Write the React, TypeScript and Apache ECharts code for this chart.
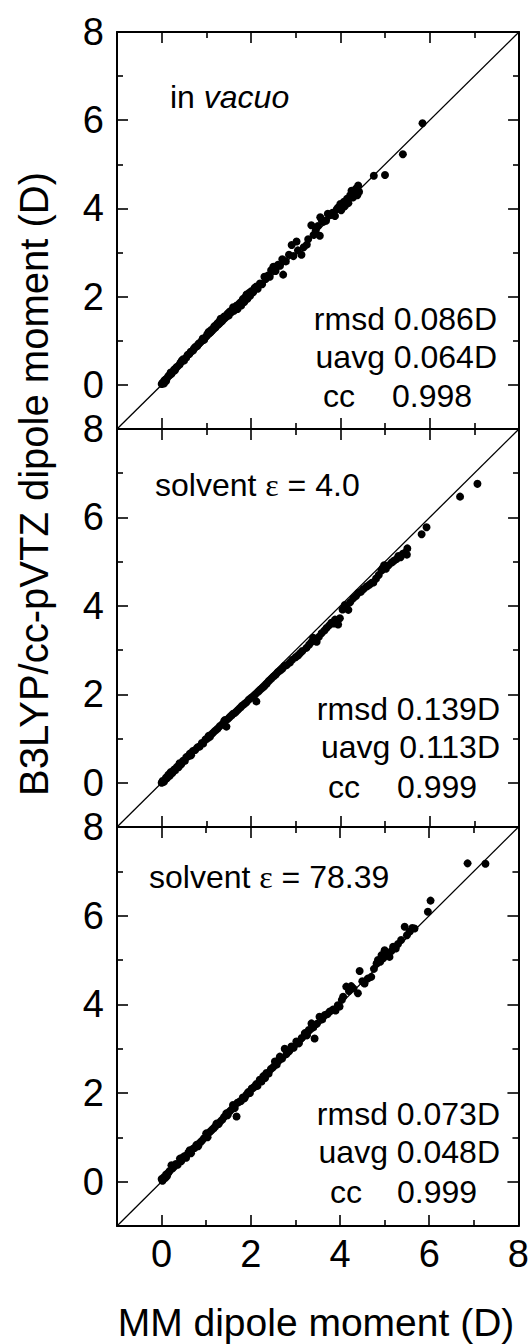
import React, { useEffect, useRef } from "react";
import * as echarts from "echarts";

const axisMin = -1;
const axisMax = 8;
const majorTicks = [0, 2, 4, 6];
const minorTicks = [1, 3, 5, 7];
const tickLabels = [0, 2, 4, 6, 8];
const diagonal = [[-1, -1], [8, 8]];

const vacuoPoints = [
  [0.0, 0.02], [0.02, 0.05], [0.05, 0.03], [0.06, 0.1], [0.08, 0.12], [0.1, 0.09], [0.12, 0.15], [0.15, 0.2],
  [0.18, 0.22], [0.2, 0.28], [0.22, 0.25], [0.25, 0.3], [0.28, 0.35], [0.3, 0.33], [0.33, 0.4], [0.36, 0.42],
  [0.4, 0.46], [0.42, 0.5], [0.45, 0.55], [0.48, 0.58], [0.5, 0.55], [0.55, 0.62], [0.58, 0.68], [0.62, 0.7],
  [0.65, 0.75], [0.7, 0.78], [0.72, 0.82], [0.75, 0.86], [0.8, 0.88], [0.82, 0.93], [0.85, 0.95], [0.9, 1.0],
  [0.92, 1.05], [0.95, 1.02], [1.0, 1.1], [1.02, 1.15], [1.05, 1.2], [1.08, 1.18], [1.1, 1.24], [1.12, 1.22],
  [1.15, 1.28], [1.18, 1.33], [1.2, 1.3], [1.22, 1.36], [1.25, 1.4], [1.28, 1.38], [1.3, 1.45], [1.32, 1.5],
  [1.35, 1.44], [1.38, 1.5], [1.4, 1.55], [1.42, 1.52], [1.45, 1.58], [1.48, 1.62], [1.5, 1.57], [1.52, 1.66],
  [1.55, 1.64], [1.58, 1.7], [1.6, 1.76], [1.62, 1.68], [1.65, 1.74], [1.68, 1.8], [1.7, 1.72], [1.72, 1.82],
  [1.75, 1.86], [1.78, 1.8], [1.8, 1.9], [1.82, 1.95], [1.85, 1.88], [1.88, 2.0], [1.9, 2.05], [1.92, 1.95],
  [1.95, 2.08], [1.98, 2.02], [2.0, 2.12], [2.05, 2.1], [2.08, 2.2], [2.12, 2.23], [2.15, 2.18], [2.2, 2.3],
  [2.25, 2.28], [2.3, 2.45], [2.33, 2.4], [2.38, 2.48], [2.42, 2.45], [2.45, 2.6], [2.5, 2.68], [2.55, 2.58],
  [2.6, 2.72], [2.65, 2.7], [2.7, 2.85], [2.72, 2.5], [2.78, 2.8], [2.85, 2.95], [2.91, 3.17], [2.95, 2.92],
  [3.02, 3.25], [3.05, 3.05], [3.13, 2.95], [3.18, 3.12], [3.25, 3.18], [3.28, 3.3], [3.35, 3.62], [3.4, 3.4],
  [3.45, 3.5], [3.5, 3.6], [3.54, 3.38], [3.55, 3.8], [3.58, 3.75], [3.62, 3.7], [3.68, 3.72], [3.72, 3.88],
  [3.78, 3.85], [3.82, 3.9], [3.88, 3.83], [3.92, 3.98], [3.95, 4.02], [4.0, 4.1], [4.02, 3.96], [4.08, 4.15],
  [4.1, 4.05], [4.15, 4.22], [4.18, 4.12], [4.22, 4.3], [4.25, 4.4], [4.28, 4.25], [4.32, 4.35], [4.35, 4.45],
  [4.38, 4.3], [4.4, 4.52], [4.42, 4.38], [4.75, 4.74], [5.0, 4.76], [5.4, 5.23], [5.84, 5.93],
];

const eps4Points = [
  [0.0, 0.0], [0.02, 0.04], [0.05, 0.02], [0.08, 0.08], [0.1, 0.12], [0.12, 0.1], [0.15, 0.18], [0.18, 0.16],
  [0.2, 0.24], [0.24, 0.22], [0.28, 0.3], [0.3, 0.28], [0.34, 0.36], [0.38, 0.35], [0.4, 0.44], [0.44, 0.42],
  [0.48, 0.5], [0.52, 0.5], [0.55, 0.58], [0.6, 0.6], [0.63, 0.66], [0.66, 0.62], [0.7, 0.72], [0.75, 0.74],
  [0.8, 0.8], [0.85, 0.82], [0.9, 0.9], [0.93, 0.89], [0.98, 0.98], [1.02, 1.0], [1.05, 1.06], [1.08, 1.04],
  [1.12, 1.1], [1.16, 1.14], [1.2, 1.18], [1.25, 1.22], [1.3, 1.28], [1.35, 1.32], [1.4, 1.4], [1.42, 1.42],
  [1.45, 1.27], [1.48, 1.44], [1.52, 1.48], [1.56, 1.52], [1.6, 1.56], [1.64, 1.58], [1.68, 1.62], [1.72, 1.66],
  [1.76, 1.7], [1.8, 1.74], [1.85, 1.78], [1.9, 1.82], [1.95, 1.88], [2.0, 1.92], [2.05, 1.96], [2.1, 2.0],
  [2.12, 1.84], [2.16, 2.06], [2.2, 2.1], [2.25, 2.14], [2.3, 2.18], [2.35, 2.24], [2.4, 2.3], [2.45, 2.35],
  [2.5, 2.4], [2.55, 2.44], [2.6, 2.5], [2.65, 2.54], [2.7, 2.58], [2.75, 2.64], [2.8, 2.66], [2.87, 2.72],
  [2.92, 2.78], [3.0, 2.84], [3.05, 2.88], [3.1, 2.93], [3.15, 2.98], [3.24, 3.05], [3.3, 3.12], [3.35, 3.18],
  [3.39, 3.28], [3.44, 3.22], [3.47, 3.19], [3.52, 3.3], [3.58, 3.38], [3.64, 3.44], [3.69, 3.5], [3.75, 3.56],
  [3.8, 3.62], [3.85, 3.6], [3.88, 3.69], [3.92, 3.63], [3.95, 3.58], [3.99, 3.72], [4.05, 3.92], [4.1, 4.02],
  [4.14, 3.96], [4.18, 3.91], [4.22, 4.08], [4.29, 4.17], [4.35, 4.22], [4.4, 4.29], [4.46, 4.32], [4.52, 4.38],
  [4.59, 4.44], [4.65, 4.48], [4.7, 4.52], [4.74, 4.53], [4.8, 4.62], [4.86, 4.7], [4.92, 4.8], [4.95, 4.86],
  [4.98, 4.92], [5.02, 4.84], [5.08, 4.92], [5.15, 4.98], [5.2, 5.02], [5.26, 5.06], [5.3, 5.13], [5.35, 5.1],
  [5.4, 5.18], [5.45, 5.2], [5.49, 5.16], [5.5, 5.3], [5.82, 5.62], [5.93, 5.78], [6.68, 6.47], [7.07, 6.76],
];

const eps78Points = [
  [0.0, 0.06], [0.02, 0.02], [0.05, 0.1], [0.08, 0.08], [0.1, 0.16], [0.12, 0.12], [0.15, 0.2], [0.18, 0.24],
  [0.22, 0.37], [0.25, 0.3], [0.28, 0.34], [0.32, 0.4], [0.36, 0.38], [0.41, 0.52], [0.44, 0.46], [0.48, 0.55],
  [0.52, 0.58], [0.55, 0.54], [0.6, 0.66], [0.63, 0.71], [0.66, 0.64], [0.7, 0.74], [0.74, 0.76], [0.78, 0.83],
  [0.82, 0.8], [0.86, 0.88], [0.9, 0.92], [0.95, 0.98], [1.0, 1.09], [1.03, 1.0], [1.08, 1.12], [1.12, 1.16],
  [1.16, 1.2], [1.2, 1.24], [1.23, 1.31], [1.28, 1.3], [1.32, 1.36], [1.36, 1.4], [1.4, 1.46], [1.45, 1.54],
  [1.48, 1.5], [1.52, 1.58], [1.56, 1.62], [1.6, 1.73], [1.64, 1.66], [1.68, 1.47], [1.7, 1.78], [1.74, 1.8],
  [1.78, 1.82], [1.82, 1.9], [1.86, 1.88], [1.9, 1.96], [1.94, 2.02], [1.98, 2.0], [2.02, 2.1], [2.05, 2.11],
  [2.08, 2.14], [2.12, 2.2], [2.15, 2.16], [2.2, 2.3], [2.24, 2.26], [2.28, 2.38], [2.32, 2.34], [2.35, 2.45],
  [2.4, 2.44], [2.45, 2.54], [2.5, 2.58], [2.54, 2.71], [2.58, 2.64], [2.62, 2.74], [2.65, 2.82], [2.7, 2.78],
  [2.76, 3.0], [2.8, 2.88], [2.86, 2.94], [2.91, 3.05], [2.96, 3.02], [3.02, 3.16], [3.08, 3.12], [3.14, 3.24],
  [3.21, 3.35], [3.26, 3.3], [3.3, 3.42], [3.36, 3.57], [3.4, 3.48], [3.43, 3.23], [3.48, 3.56], [3.54, 3.72],
  [3.6, 3.66], [3.66, 3.76], [3.72, 3.78], [3.77, 3.84], [3.84, 3.88], [3.9, 3.86], [3.95, 3.98], [3.99, 3.95],
  [4.04, 4.1], [4.07, 4.17], [4.14, 4.4], [4.2, 4.3], [4.25, 4.41], [4.3, 4.36], [4.4, 4.25], [4.44, 4.75],
  [4.5, 4.52], [4.55, 4.47], [4.62, 4.58], [4.7, 4.62], [4.76, 4.8], [4.82, 4.92], [4.85, 5.0], [4.9, 4.96],
  [4.93, 5.11], [4.97, 5.04], [5.0, 5.22], [5.05, 5.14], [5.11, 5.07], [5.15, 5.2], [5.19, 5.3], [5.25, 5.26],
  [5.3, 5.36], [5.37, 5.45], [5.45, 5.75], [5.5, 5.56], [5.56, 5.64], [5.62, 5.72], [5.67, 5.71], [5.97, 6.09],
  [6.03, 6.34], [6.86, 7.18], [7.26, 7.17],
];

const panelData = [vacuoPoints, eps4Points, eps78Points];
const rmsdTexts = ["rmsd 0.086D", "rmsd 0.139D", "rmsd 0.073D"];
const uavgTexts = ["uavg 0.064D", "uavg 0.113D", "uavg 0.048D"];
const ccValues = ["0.998", "0.999", "0.999"];
const epsValues = ["4.0", "78.39"];
const xTitle = "MM dipole moment (D)";
const yTitle = "B3LYP/cc-pVTZ dipole moment (D)";

const FONT = "'Liberation Sans', Arial, Helvetica, sans-serif";
const SERIF = "'Liberation Serif', 'Times New Roman', serif";
const BLACK = "#000";

// layout
const GRID_LEFT = 117;
const GRID_WIDTH = 402;
const gridTops = [32, 429, 827];
const gridHeights = [397, 398, 399];

function txt(x: number, y: number, text: string, align: string, size = 32, rich?: any) {
  return {
    type: "text",
    x,
    y,
    silent: true,
    style: {
      text,
      fill: BLACK,
      fontSize: size,
      fontFamily: FONT,
      align,
      textAlign: align,
      verticalAlign: "middle",
      textVerticalAlign: "middle",
      rich,
    },
  };
}

export default function App() {
  const ref = useRef<HTMLDivElement>(null);

  useEffect(() => {
    if (!ref.current) return;
    const chart = echarts.init(ref.current, null, { renderer: "svg" });

    const borderStyle = { color: BLACK, width: 2 };
    const tickStyle = { color: BLACK, width: 1.6 };
    const grids: any[] = [];
    const xAxes: any[] = [];
    const yAxes: any[] = [];
    const series: any[] = [];

    panelData.forEach((points, g) => {
      grids.push({ left: GRID_LEFT, top: gridTops[g], width: GRID_WIDTH, height: gridHeights[g], containLabel: false });
      const base = {
        type: "value",
        gridIndex: g,
        min: axisMin,
        max: axisMax,
        splitLine: { show: false },
        axisLabel: { show: false },
      };
      const major = (position: string, labels: boolean, isX: boolean) => ({
        ...base,
        position,
        axisLine: { show: true, onZero: false, lineStyle: borderStyle },
        axisTick: { show: true, inside: true, length: 11, customValues: majorTicks, lineStyle: tickStyle },
        axisLabel: labels
          ? {
              show: true,
              customValues: tickLabels,
              fontSize: 38,
              fontFamily: FONT,
              color: BLACK,
              margin: isX ? 9 : 13,
            }
          : { show: false },
      });
      const minor = (position: string) => ({
        ...base,
        position,
        axisLine: { show: false, onZero: false },
        axisTick: { show: true, inside: true, length: 6, customValues: minorTicks, lineStyle: tickStyle },
      });
      const xi = xAxes.length;
      xAxes.push(major("bottom", g === 2, true), minor("bottom"), major("top", false, true), minor("top"));
      const yi = yAxes.length;
      yAxes.push(major("left", true, false), minor("left"), major("right", false, false), minor("right"));

      series.push({
        type: "line",
        xAxisIndex: xi,
        yAxisIndex: yi,
        data: diagonal,
        symbol: "none",
        lineStyle: { color: BLACK, width: 1.3 },
        silent: true,
      });
      series.push({
        type: "scatter",
        xAxisIndex: xi,
        yAxisIndex: yi,
        data: points,
        symbol: "circle",
        symbolSize: 8,
        itemStyle: { color: BLACK, opacity: 1 },
        silent: true,
      });
    });

    const graphics: any[] = [];
    graphics.push(
      txt(170, 97, "{r|in }{i|vacuo}", "left", 32, {
        r: { fontSize: 32, fontFamily: FONT, fill: BLACK, color: BLACK },
        i: { fontSize: 32, fontFamily: FONT, fontStyle: "italic", fill: BLACK, color: BLACK },
      })
    );
    const epsRich = {
      a: { fontSize: 32, fontFamily: FONT, fill: BLACK, color: BLACK },
      e: { fontSize: 32, fontFamily: SERIF, fill: BLACK, color: BLACK },
    };
    graphics.push(txt(155, 485, `{a|solvent }{e|ε}{a| = ${epsValues[0]}}`, "left", 32, epsRich));
    graphics.push(txt(149, 877, `{a|solvent }{e|ε}{a| = ${epsValues[1]}}`, "left", 32, epsRich));

    const statRows = [
      { right: 497, rms: 319, uav: 357, cc: 396, ccX: 323, numX: 392 },
      { right: 500, rms: 709, uav: 747, cc: 787, ccX: 328, numX: 397 },
      { right: 500, rms: 1114, uav: 1152, cc: 1192, ccX: 330, numX: 397 },
    ];
    statRows.forEach((r, i) => {
      graphics.push(txt(r.right, r.rms, rmsdTexts[i], "right"));
      graphics.push(txt(r.right, r.uav, uavgTexts[i], "right"));
      graphics.push(txt(r.ccX, r.cc, "cc", "left"));
      graphics.push(txt(r.numX, r.cc, ccValues[i], "left"));
    });

    graphics.push(txt(316, 1322, xTitle, "center", 39));
    graphics.push({ ...txt(34, 484, yTitle, "center", 40), rotation: Math.PI / 2 });

    chart.setOption({
      animation: false,
      backgroundColor: "#fff",
      textStyle: { fontFamily: FONT },
      grid: grids,
      xAxis: xAxes,
      yAxis: yAxes,
      series,
      graphic: graphics,
    });

    return () => chart.dispose();
  }, []);

  return (
    <div
      ref={ref}
      style={{ position: "fixed", left: 0, top: 0, width: 532, height: 1344, background: "#fff" }}
    />
  );
}
